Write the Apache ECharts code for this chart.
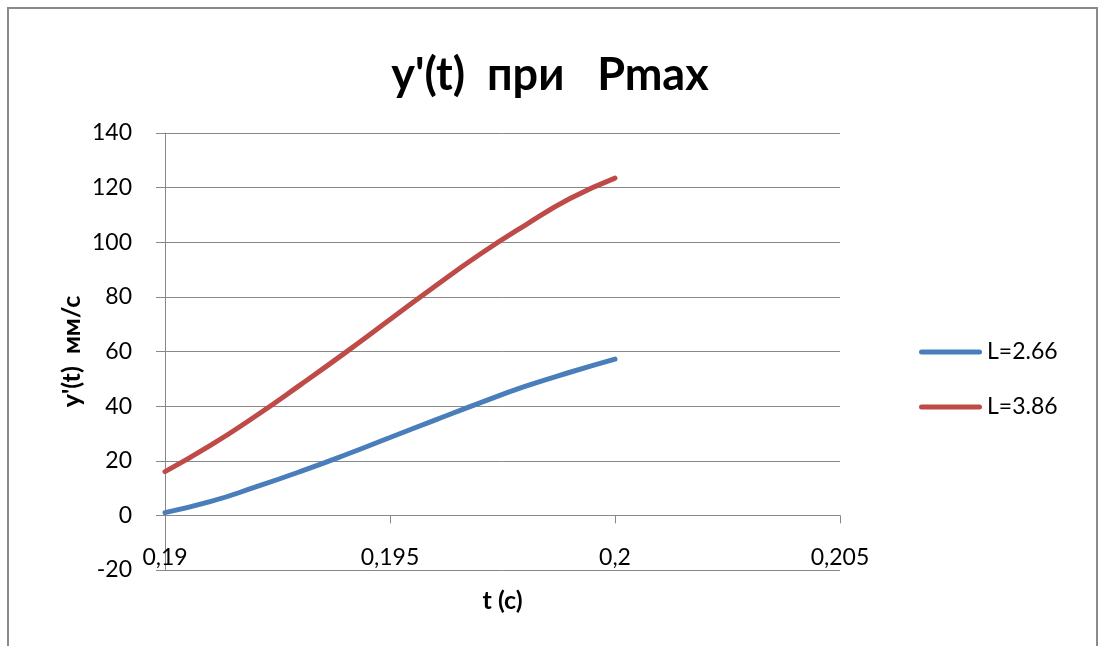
<!DOCTYPE html>
<html>
<head>
<meta charset="utf-8">
<script src="https://cdn.jsdelivr.net/npm/echarts@6/dist/echarts.min.js"></script>
<style>
  html, body { margin: 0; padding: 0; background: #fff; }
  #chart { width: 1102px; height: 646px; }
</style>
</head>
<body>
<div id="chart"></div>
<script>
// Time samples, s
const times = [0.190, 0.191, 0.192, 0.193, 0.194, 0.195, 0.196, 0.197, 0.198, 0.199, 0.200];
// Velocity y'(t), mm/s, for each L
const seriesNames = ['L=2.66', 'L=3.86'];
const velL266 = [1, 5, 10.3, 16, 22.1, 28.5, 34.9, 41.2, 47.2, 52.4, 57.2];
const velL386 = [16, 25.5, 36.2, 47.7, 59.5, 71.7, 83.9, 95.6, 106.2, 116.0, 123.5];

const FONT = 'Lato, "Open Sans", "Noto Sans", sans-serif';
const toPairs = (xs, ys) => xs.map((x, i) => [x, ys[i]]);
const fmtComma = v => String(+v.toFixed(3)).replace('.', ',');

const chart = echarts.init(document.getElementById('chart'));
chart.setOption({
  backgroundColor: '#fff',
  animation: false,
  title: {
    text: "y'(t)  при   Pmax",
    left: 545,
    top: 48,
    textAlign: 'center',
    textStyle: { fontFamily: FONT, fontSize: 45, fontWeight: 'bold', color: '#000' }
  },
  graphic: [{
    type: 'rect',
    shape: { x: 8, y: 8, width: 1089, height: 660 },
    style: { fill: null, stroke: '#8a8a8a', lineWidth: 2 },
    silent: true
  }],
  legend: {
    orient: 'vertical',
    left: 914,
    top: 335,
    itemWidth: 63,
    itemHeight: 24,
    itemGap: 31,
    icon: 'path://M2.5,0 L60.5,0 A2.5,2.5 0 0 1 60.5,5 L2.5,5 A2.5,2.5 0 0 1 2.5,0 Z',
    textStyle: { fontFamily: FONT, fontSize: 23, lineHeight: 24, color: '#000' },
    data: seriesNames
  },
  grid: { left: 165, right: 262, top: 133, bottom: 76, containLabel: false, outerBoundsMode: 'none' },
  xAxis: {
    type: 'value',
    min: 0.19,
    max: 0.205,
    interval: 0.005,
    name: 't (с)',
    nameLocation: 'middle',
    nameGap: 18,
    nameMoveOverlap: false,
    nameTextStyle: { fontFamily: FONT, fontSize: 25, fontWeight: 'bold', color: '#000' },
    axisLine: { onZero: true, lineStyle: { color: '#888', width: 1 } },
    axisTick: { show: true, inside: false, length: 8, lineStyle: { color: '#888' } },
    axisLabel: {
      margin: -24,
      fontFamily: FONT, fontSize: 23, color: '#000',
      showMinLabel: true, showMaxLabel: true,
      formatter: fmtComma
    },
    splitLine: { show: false }
  },
  yAxis: {
    type: 'value',
    min: -20,
    max: 140,
    interval: 20,
    name: "y'(t)  мм/с",
    nameLocation: 'middle',
    nameRotate: 90,
    nameGap: 81,
    nameMoveOverlap: false,
    nameTextStyle: { fontFamily: FONT, fontSize: 25, fontWeight: 'bold', color: '#000' },
    axisLine: { show: true, lineStyle: { color: '#888', width: 1 } },
    axisTick: { show: true, inside: false, length: 9, lineStyle: { color: '#888' } },
    axisLabel: { margin: 33, fontFamily: FONT, fontSize: 23, color: '#000' },
    splitLine: { show: true, lineStyle: { color: '#888', width: 1 } }
  },
  series: [
    {
      name: seriesNames[0],
      type: 'line',
      data: toPairs(times, velL266),
      smooth: 0.5,
      symbol: 'none',
      color: '#4A7EBB',
      lineStyle: { width: 5, color: '#4A7EBB', cap: 'round' }
    },
    {
      name: seriesNames[1],
      type: 'line',
      data: toPairs(times, velL386),
      smooth: 0.5,
      symbol: 'none',
      color: '#BE4B48',
      lineStyle: { width: 5, color: '#BE4B48', cap: 'round' }
    }
  ]
});
</script>
</body>
</html>
